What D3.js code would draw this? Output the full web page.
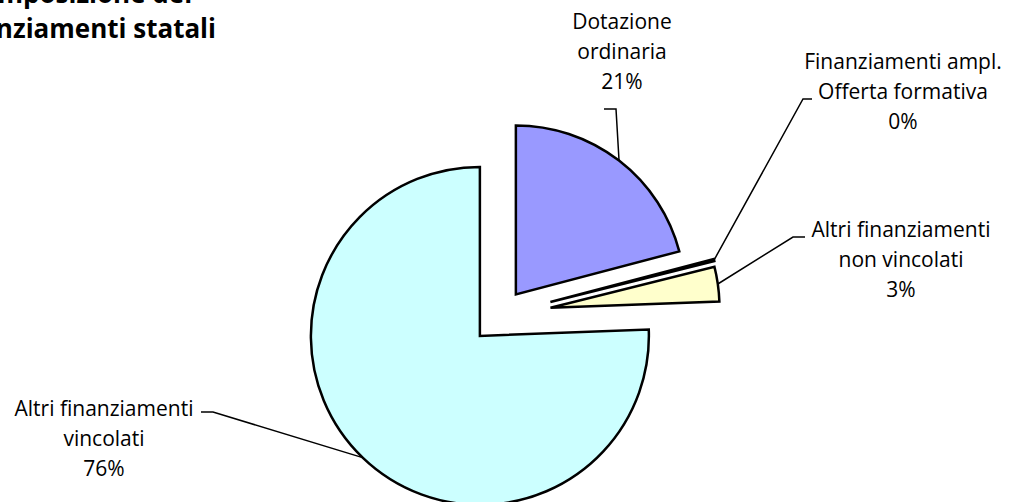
<!DOCTYPE html>
<html>
<head>
<meta charset="utf-8">
<script src="https://cdn.jsdelivr.net/npm/d3@7"></script>
<style>
body{margin:0;background:#fff;overflow:hidden}
text{font-family:"Open Sans",sans-serif;fill:#000}
</style>
</head>
<body>
<svg id="chart" width="1009" height="502"></svg>
<script>
// data
var categories = ["Dotazione ordinaria","Finanziamenti ampl. Offerta formativa","Altri finanziamenti non vincolati","Altri finanziamenti vincolati"];
var labelLines = [["Dotazione","ordinaria"],["Finanziamenti ampl.","Offerta formativa"],["Altri finanziamenti","non vincolati"],["Altri finanziamenti","vincolati"]];
var values = [20.9, 0.2, 3.3, 75.6];
var colors = ["#9999ff","#993366","#ffffcc","#ccffff"];
var titleLines = ["Composizione dei","Finanziamenti statali"];

// layout
var cx = 500, cy = 315, radius = 169;
var explode = [26, 52, 51, 29];
var lineGap = 30;
var labelPos = [
	{x:622, y:29,  corner:[616,109], hx:-12},
	{x:903, y:69,  corner:[803,99],  hx:9},
	{x:901, y:237, corner:[793,237], hx:12},
	{x:104, y:416, corner:[213,412], hx:-12}
];

var svg = d3.select("#chart");
var total = d3.sum(values);
var fmt = d3.format(".0%");

var pie = d3.pie().sort(null).value(function(d){return d;});
var arcs = pie(values);
var arc = d3.arc().innerRadius(0).outerRadius(radius);

function offset(d,i){
	var a = (d.startAngle+d.endAngle)/2;
	return [cx+explode[i]*Math.sin(a), cy-explode[i]*Math.cos(a)];
}

svg.selectAll(".slice")
	.data(arcs)
	.enter()
	.append("path")
	.attr("class","slice")
	.attr("transform",function(d,i){var o=offset(d,i);return "translate("+o[0]+","+o[1]+")";})
	.attr("d",arc)
	.attr("fill",function(d,i){return colors[i];})
	.attr("stroke","#000")
	.attr("stroke-width",2.5)
	.attr("stroke-linejoin","miter");

// leader lines
svg.selectAll(".leader")
	.data(arcs)
	.enter()
	.append("polyline")
	.attr("class","leader")
	.attr("fill","none")
	.attr("stroke","#000")
	.attr("stroke-width",1.5)
	.attr("points",function(d,i){
		var o = offset(d,i);
		var a = (d.startAngle+d.endAngle)/2;
		var ex = o[0]+radius*Math.sin(a), ey = o[1]-radius*Math.cos(a);
		var p = labelPos[i];
		return (p.corner[0]+p.hx)+","+p.corner[1]+" "+p.corner[0]+","+p.corner[1]+" "+ex+","+ey;
	});

// labels
var labels = svg.selectAll(".lbl")
	.data(arcs)
	.enter()
	.append("text")
	.attr("class","lbl")
	.attr("text-anchor","middle")
	.style("font-size","21px");

labels.each(function(d,i){
	var lines = labelLines[i].concat([fmt(values[i]/total)]);
	var t = d3.select(this);
	lines.forEach(function(s,k){
		t.append("tspan")
			.attr("x",labelPos[i].x)
			.attr("y",labelPos[i].y+k*lineGap)
			.text(s);
	});
});

// title, partly outside the picture
var title = svg.append("text")
	.style("font-size","26px")
	.style("font-weight","bold")
	.attr("text-anchor","middle");
var t2 = title.append("tspan").text(titleLines[1]);
var w2 = t2.node().getComputedTextLength();
var tx = 216 - w2/2;
t2.attr("x",tx).attr("y",38);
title.insert("tspan","tspan").attr("x",tx).attr("y",3).text(titleLines[0]);
</script>
</body>
</html>
